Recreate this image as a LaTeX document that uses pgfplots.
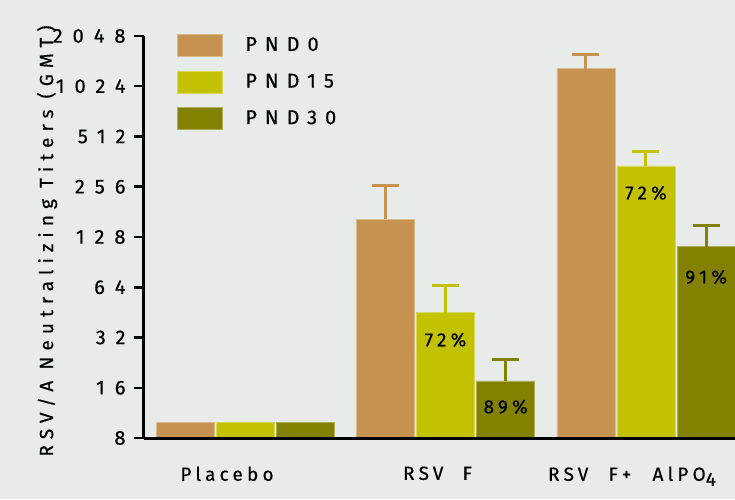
\documentclass[border=0pt]{standalone}
\usepackage{pgfplots}
\pgfplotsset{compat=1.18}
\usepackage{fontspec}
\setmainfont{Fira Sans}[LetterSpace=22, FakeBold=0.5]
\newfontfamily\tickfont{Fira Sans}[LetterSpace=50, FakeBold=0.5]
\newfontfamily\legfont{Fira Sans}[LetterSpace=40, FakeBold=0.5]
\newfontfamily\labfont{Fira Sans}[LetterSpace=32, FakeBold=0.5]
\definecolor{bg}{HTML}{E7EBE9}
\definecolor{cA}{HTML}{C5934F}
\definecolor{cB}{HTML}{C3C200}
\definecolor{cC}{HTML}{838200}
\pgfplotsset{
  mybar/.style={ybar, bar width=58pt, bar shift=#1, line width=0.6pt},
  swatch/.style={legend image code/.code={\fill[##1] (0pt,-11pt) rectangle (45pt,11pt);}},
  myerr/.style={draw=none, mark=none, forget plot,
    error bars/.cd, y dir=plus, y explicit,
    error bar style={line width=3pt, draw=#1},
    error mark options={draw=#1, line width=3pt, mark size=13.5pt, rotate=90}},
}
\begin{document}%
\pagecolor{bg}%
\fontsize{19}{23}\selectfont%
\begin{tikzpicture}
\begin{axis}[
  at={(0pt,0pt)}, anchor=south west,
  scale only axis, width=591pt, height=402pt,
  ymode=log, log basis y=2, ymin=8, ymax=2048,
  xmin=-0.504, xmax=2.444,
  axis x line*=bottom, axis y line*=left,
  axis line style={line width=3pt, -},
  axis on top,
  /pgf/number format/assume math mode=true,
  ytick={8,16,32,64,128,256,512,1024,2048},
  yticklabels={8,16,32,64,128,256,512,1024,2048},
  xtick={-0.09,0.96,1.93},
  xticklabels={Placebo, RSV\hspace{10pt} F, {RSV\hspace{11pt} F+\hspace{12pt} AlPO\raisebox{-0.5ex}{4}}},
  x tick style={draw=none},
  y tick style={line width=2.5pt, black},
  tick align=outside, major tick length=10pt,
  xticklabel style={yshift=-12pt},
  yticklabel style={xshift=-2pt, font=\fontsize{20}{24}\tickfont},
  ylabel={RSV/A Neutralizing Titers (GMT)},
  ylabel style={at={(rel axis cs:-0.164,0.49)}, anchor=center, font=\fontsize{19}{23}\labfont},
  legend style={at={(rel axis cs:0.05,1.01)}, anchor=north west, draw=none, fill=none,
    row sep=14pt, nodes={inner sep=0pt}, font=\fontsize{20}{24}\legfont},
  legend cell align=left,
  /tikz/every odd column/.append style={column sep=23pt},
]
% placebo bars
\addplot[mybar=-60.15pt, fill=cA, draw=cA!65!white, forget plot] coordinates {(0,10)};
\addplot[mybar=0pt, fill=cB, draw=cB!65!white, forget plot] coordinates {(0,10)};
\addplot[mybar=60.15pt, fill=cC, draw=cC!65!white, forget plot] coordinates {(0,10)};
% PND0
\addplot[mybar=-60.15pt, fill=cA, draw=cA!65!white, swatch]
  coordinates {(1,164) (2,1304)};
\addlegendentry{PND0}
% PND15
\addplot[mybar=0pt, fill=cB, draw=cB!65!white, swatch]
  coordinates {(1,45) (2,341)};
\addlegendentry{PND15}
% PND30
\addplot[mybar=60.15pt, fill=cC, draw=cC!65!white, swatch]
  coordinates {(1,17.6) (2,112)};
\addlegendentry{PND30}
% error bars (upper only)
\addplot[myerr=cA] coordinates {(0.7,164) +- (0,98) (1.7,1304) +- (0,272)};
\addplot[myerr=cB] coordinates {(1,45) +- (0,21) (2,341) +- (0,78)};
\addplot[myerr=cC] coordinates {(1.3,17.6) +- (0,5.9) (2.3,112) +- (0,39)};
\node at (axis cs:1,31) {72\%};
\node at (axis cs:1.3,12.3) {89\%};
\node at (axis cs:2,235) {72\%};
\node at (axis cs:2.3,73.7) {91\%};
\end{axis}
\pgfresetboundingbox
\path[use as bounding box] (-144pt,-61pt) rectangle (591pt,438pt);
\end{tikzpicture}%
\end{document}
